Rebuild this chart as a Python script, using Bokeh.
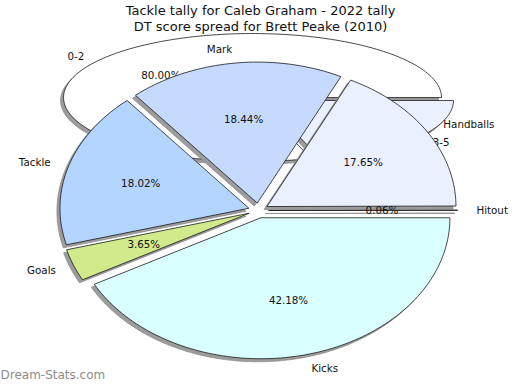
import numpy as np
from bokeh.plotting import figure
from bokeh.models import Range1d
from bokeh.embed import file_html
from bokeh.resources import INLINE
from bokeh.core.properties import value

# ---- data ----
title_lines = ["Tackle tally for Caleb Graham - 2022 tally",
               "DT score spread for Brett Peake (2010)"]
bg_labels = ["0-2", "3-5"]
bg_values = [80.0, 20.0]
bg_colors = ["#ffffff", "#ebf0ff"]
categories = ["Hitout", "Handballs", "Mark", "Tackle", "Goals", "Kicks"]
values = [0.06, 17.65, 18.44, 18.02, 3.65, 42.18]
colors = ["#ffe0c0", "#eaf0ff", "#c6d9ff", "#b3d5ff", "#d0ea8c", "#d9ffff"]
watermark = "Dream-Stats.com"

FONT = value("DejaVu Sans")
W, H = 512, 382
p = figure(width=W, height=H, x_range=Range1d(0, W), y_range=Range1d(H, 0),
           output_backend="svg", toolbar_location=None, min_border=0,
           x_axis_location=None, y_axis_location=None)
p.grid.visible = False
p.outline_line_color = None
p.background_fill_color = "white"
p.border_fill_color = "white"


def pie_geometry(vals, cx, cy, rx, ry, explode):
    total = float(sum(vals))
    start = 0.0
    out = []
    for v in vals:
        a0 = start
        a1 = start + 2 * np.pi * v / total
        start = a1
        mid = 0.5 * (a0 + a1)
        ox = cx + explode * rx * np.cos(mid)
        oy = cy - explode * ry * np.sin(mid)
        n = max(3, int(240 * (a1 - a0) / (2 * np.pi)) + 3)
        t = np.linspace(a0, a1, n)
        xs = [ox] + list(ox + rx * np.cos(t))
        ys = [oy] + list(oy - ry * np.sin(t))
        out.append(dict(xs=xs, ys=ys, ox=ox, oy=oy, mid=mid, pct=100.0 * v / total))
    return out


def draw_pie(labels, vals, cols, cx, cy, rx, ry, explode, fs="10.3px"):
    geo = pie_geometry(vals, cx, cy, rx, ry, explode)
    # shadows
    p.patches([[x - 3 for x in g["xs"]] for g in geo],
              [[y + 3 for y in g["ys"]] for g in geo],
              fill_color="#9c9c9c", line_color="#8e8e8e", line_width=0.8)
    # slices
    p.patches([g["xs"] for g in geo], [g["ys"] for g in geo],
              fill_color=cols, line_color="#1a1a1a", line_width=0.8)
    # percentage labels
    p.text([g["ox"] + 0.6 * rx * np.cos(g["mid"]) for g in geo],
           [g["oy"] - 0.6 * ry * np.sin(g["mid"]) for g in geo],
           text=["%.2f%%" % g["pct"] for g in geo],
           text_align="center", text_baseline="middle",
           text_font=FONT, text_font_size=fs, text_color="#111111")
    # category labels
    for lab, g in zip(labels, geo):
        c = np.cos(g["mid"])
        p.text([g["ox"] + 1.1 * rx * c], [g["oy"] - 1.1 * ry * np.sin(g["mid"])],
               text=[lab], text_align="left" if c >= 0 else "right",
               text_baseline="middle", text_font=FONT, text_font_size=fs,
               text_color="#111111")


# background pie
draw_pie(bg_labels, bg_values, bg_colors, 258, 98.5, 189, 64, 0.039)
# front pie
draw_pie(categories, values, colors, 258, 210, 189, 141, 0.053)

# titles
p.text([260, 260], [10, 26], text=title_lines, text_align="center",
       text_baseline="middle", text_font=FONT, text_font_size="13px",
       text_color="#111111")

# watermark
p.text([0], [381], text=[watermark], text_align="left", text_baseline="bottom",
       text_font=FONT, text_font_size="12px", text_color="#8c8c8c")

open("out.html", "w").write(file_html(p, INLINE))
